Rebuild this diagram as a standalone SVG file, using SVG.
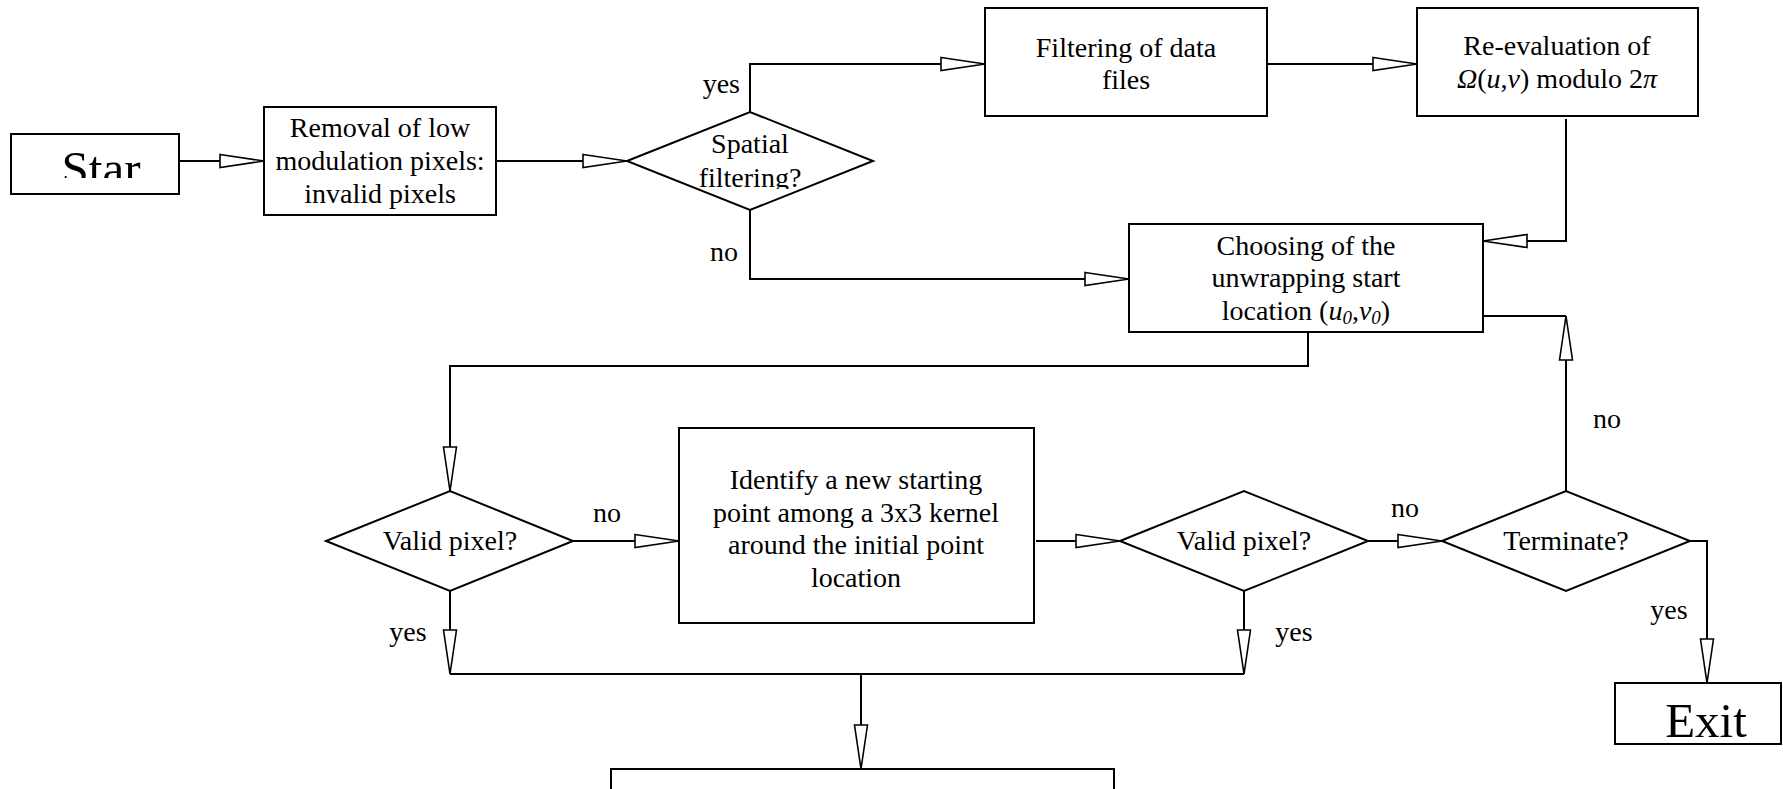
<svg xmlns="http://www.w3.org/2000/svg" width="1783" height="789" viewBox="0 0 1783 789">
<style>
.box{fill:#fff;stroke:#000;stroke-width:2}
.ln{fill:none;stroke:#000;stroke-width:2}
.ar{fill:none;stroke:#000;stroke-width:2;marker-end:url(#ah)}
text{font-family:"Liberation Serif","Times New Roman",serif;font-size:28px;fill:#000}
.c{text-anchor:middle}
.big{font-size:49px}
.i{font-style:italic}
.sub{font-size:19px;font-style:italic}
</style>
<defs>
<marker id="ah" markerUnits="userSpaceOnUse" markerWidth="48" markerHeight="17" refX="46" refY="8.5" orient="auto">
<path d="M2,2 L46,8.5 L2,15 Z" fill="#fff" stroke="#000" stroke-width="1.6"/>
</marker>
<clipPath id="clipStar"><rect x="0" y="130" width="200" height="48"/></clipPath>
<clipPath id="clipSp"><rect x="600" y="100" width="300" height="89"/></clipPath>
</defs>

<g id="connectors">
<path class="ar" d="M179,161 H264"/>
<path class="ar" d="M496,161 H627"/>
<path class="ar" d="M750,112 V64 H985"/>
<path class="ar" d="M750,210 V279 H1129"/>
<path class="ar" d="M1267,64 H1417"/>
<path class="ar" d="M1566,119 V241 H1483"/>
<path class="ar" d="M1308,332 V366 H450 V491"/>
<path class="ar" d="M573,541 H679"/>
<path class="ar" d="M1036,541 H1120"/>
<path class="ar" d="M1368,541 H1442"/>
<path class="ar" d="M1566,491 V316"/>
<path class="ln" d="M1483,316 H1566"/>
<path class="ar" d="M1690,541 H1707 V683"/>
<path class="ar" d="M450,591 V674"/>
<path class="ar" d="M1244,591 V674"/>
<path class="ln" d="M450,674 H1244"/>
<path class="ar" d="M861,674 V769"/>
<text x="740" y="93" text-anchor="end">yes</text>
<text x="738" y="261" text-anchor="end">no</text>
<text class="c" x="607" y="522">no</text>
<text class="c" x="1405" y="517">no</text>
<text class="c" x="1607" y="428">no</text>
<text class="c" x="1669" y="619">yes</text>
<text class="c" x="408" y="641">yes</text>
<text class="c" x="1294" y="641">yes</text>
</g>

<g id="start">
<rect class="box" x="11" y="134" width="168" height="60"/>
<text class="c big" x="101" y="185" clip-path="url(#clipStar)">Star</text>
</g>

<g id="removal">
<rect class="box" x="264" y="107" width="232" height="108"/>
<text class="c" x="380" y="137">Removal of low</text>
<text class="c" x="380" y="170">modulation pixels:</text>
<text class="c" x="380" y="203">invalid pixels</text>
</g>

<g id="spatial">
<polygon class="box" points="627,161 750,112 873,161 750,210"/>
<text class="c" x="750" y="153">Spatial</text>
<text class="c" x="750" y="187" clip-path="url(#clipSp)">filtering?</text>
</g>

<g id="filtering">
<rect class="box" x="985" y="8" width="282" height="108"/>
<text class="c" x="1126" y="57">Filtering of data</text>
<text class="c" x="1126" y="89">files</text>
</g>

<g id="reeval">
<rect class="box" x="1417" y="8" width="281" height="108"/>
<text class="c" x="1557" y="55">Re-evaluation of</text>
<text class="c" x="1557" y="88"><tspan class="i">Ω</tspan>(<tspan class="i">u</tspan>,<tspan class="i">v</tspan>) modulo 2<tspan class="i">π</tspan></text>
</g>

<g id="choosing">
<rect class="box" x="1129" y="224" width="354" height="108"/>
<text class="c" x="1306" y="255">Choosing of the</text>
<text class="c" x="1306" y="287">unwrapping start</text>
<text class="c" x="1306" y="320">location (<tspan class="i">u</tspan><tspan class="sub" dy="4">0</tspan><tspan dy="-4">,</tspan><tspan class="i">v</tspan><tspan class="sub" dy="4">0</tspan><tspan dy="-4">)</tspan></text>
</g>

<g id="valid1">
<polygon class="box" points="326,541 450,491 573,541 450,591"/>
<text class="c" x="450" y="550">Valid pixel?</text>
</g>

<g id="identify">
<rect class="box" x="679" y="428" width="355" height="195"/>
<text class="c" x="856" y="489">Identify a new starting</text>
<text class="c" x="856" y="522">point among a 3x3 kernel</text>
<text class="c" x="856" y="554">around the initial point</text>
<text class="c" x="856" y="587">location</text>
</g>

<g id="valid2">
<polygon class="box" points="1120,541 1244,491 1368,541 1244,591"/>
<text class="c" x="1244" y="550">Valid pixel?</text>
</g>

<g id="terminate">
<polygon class="box" points="1442,541 1566,491 1690,541 1566,591"/>
<text class="c" x="1566" y="550">Terminate?</text>
</g>

<g id="exit">
<rect class="box" x="1615" y="683" width="166" height="61"/>
<text class="c big" x="1706" y="737">Exit</text>
</g>

<g id="unwrap">
<rect class="box" x="611" y="769" width="503" height="40"/>
</g>
</svg>
